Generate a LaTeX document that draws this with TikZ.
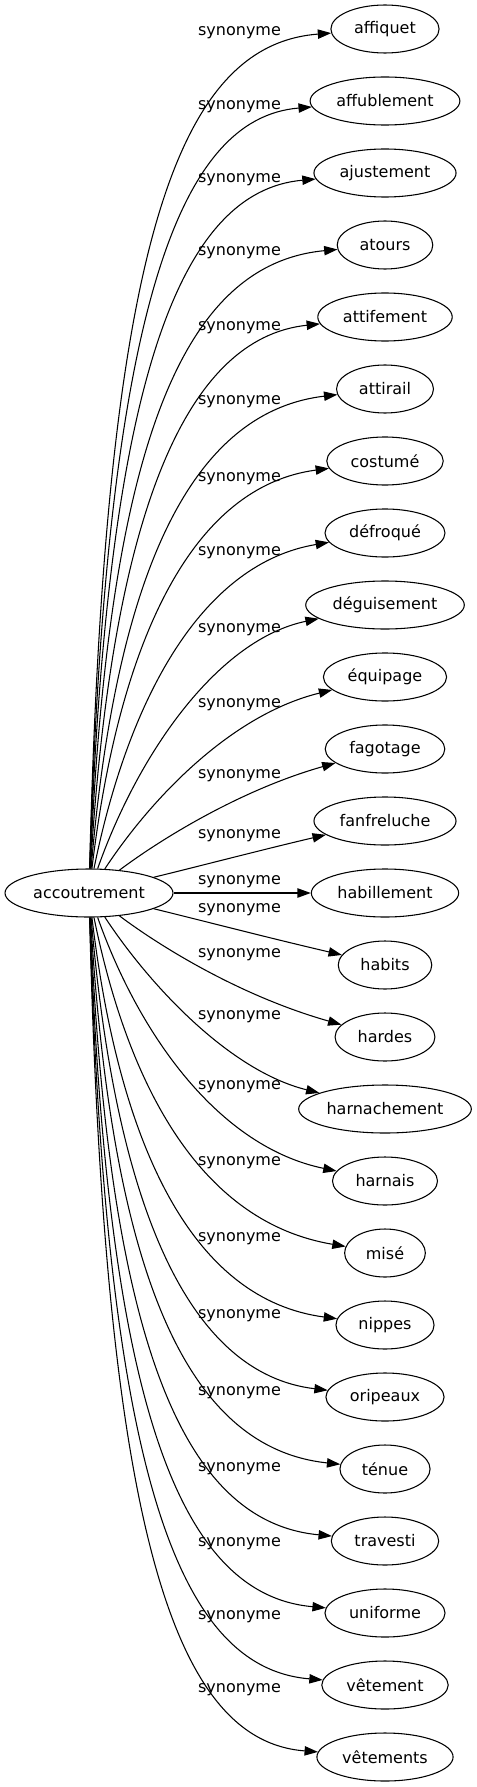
\documentclass[tikz,border=0pt]{standalone}
\usepackage{fontspec}
\setmainfont{DejaVu Sans}
\usetikzlibrary{shapes.geometric,arrows.meta}
\begin{document}
\begin{tikzpicture}[x=0.75pt,y=-0.75pt,
  font=\fontsize{12}{14}\selectfont,
  word/.style={draw, ellipse, minimum height=36pt, inner sep=0pt, line width=0.8pt},
  rel/.style={inner sep=0pt},
  link/.style={line width=0.8pt, -{Triangle[length=10pt,width=7pt]}}]
\useasboundingbox (0,0) rectangle (477,1787);
\node[word, minimum width=126pt] (src) at (89,893) {accoutrement};
\def\cxa{{200,200,160,150,140,130,120,116,112,109,107,106,105}}
\def\ffa{{0,0.375,0.37,0.43,0.50,0.56,0.60,0.63,0.66,0.69,0.71,0.73,0.744}}
\def\cxb{{280,265,240,230,220,205,195,190,186,182,179,177,175}}
\def\ofb{{0,28,41,38,34,30,25,23,21,19,18,17,16}}
\def\laby{{33,107,180,253,328,402,479,553,630,705,776,836,882,910,955,1017,1087,1163,1239,1316,1393,1469,1544,1617,1690}}
\foreach \name [count=\i from 0] in {affiquet,affublement,ajustement,atours,attifement,attirail,costumé,défroqué,déguisement,équipage,fagotage,fanfreluche,habillement,habits,hardes,harnachement,harnais,misé,nippes,oripeaux,ténue,travesti,uniforme,vêtement,vêtements}{
  \pgfmathsetmacro\tw{width("\name")}%
  \pgfmathsetmacro\nw{max(1.17*1.2*\tw+27,60)}%
  \pgfmathsetmacro\yt{29+72*\i}%
  \pgfmathtruncatemacro\k{abs(\i-12)}%
  \pgfmathsetmacro\sg{sign(\i-12)}%
  \pgfmathsetmacro\ax{\cxa[\k]}%
  \pgfmathsetmacro\ay{893+\ffa[\k]*72*(\i-12)}%
  \pgfmathsetmacro\bx{\cxb[\k]}%
  \pgfmathsetmacro\by{\yt-\sg*\ofb[\k]}%
  \pgfmathsetmacro\ly{\laby[\i]}%
  \node[word, minimum width=\nw pt] (t\i) at (385,\yt) {\name};
  \node[rel] (l\i) at (239.5,\ly) {synonyme};
  \draw[link] (src) .. controls (\ax,\ay) and (\bx,\by) .. (t\i);
}
\end{tikzpicture}
\end{document}
